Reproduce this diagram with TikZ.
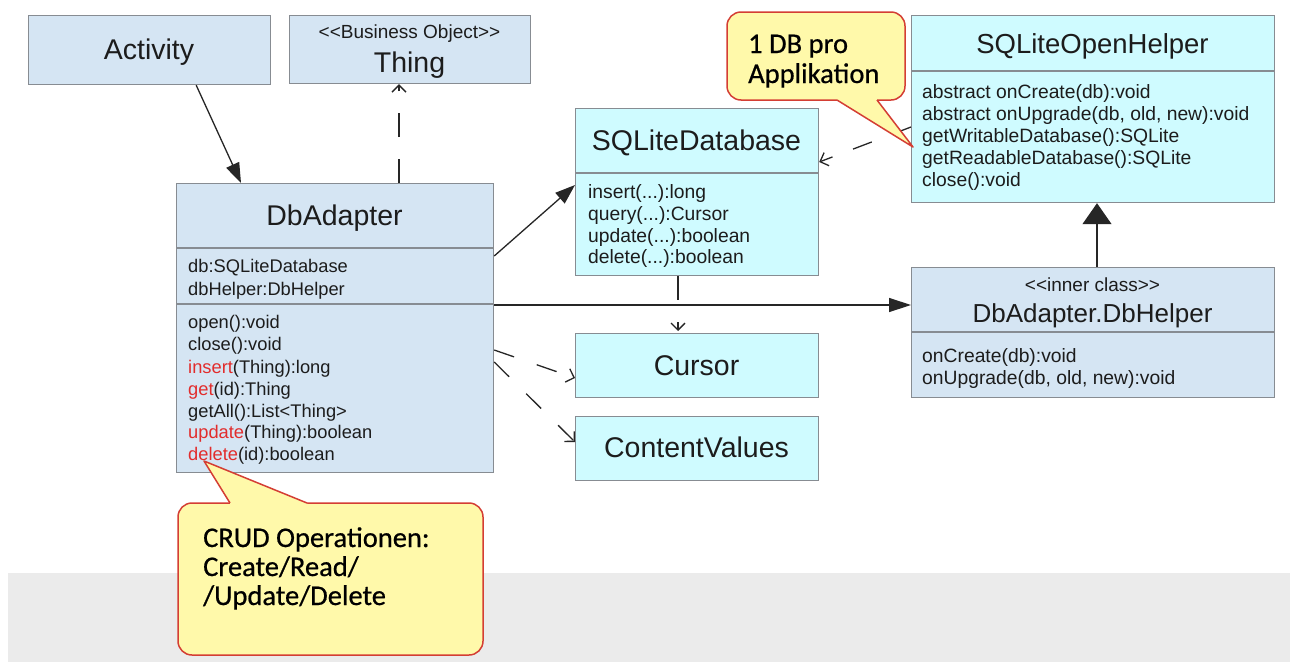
\documentclass[tikz,border=0pt]{standalone}
\usepackage{fontspec}
\setmainfont{Liberation Sans}
\newfontfamily\callfont{Carlito}[FakeBold=0.6]
\usetikzlibrary{arrows.meta}
\definecolor{clsblue}{RGB}{213,229,243}
\definecolor{clscyan}{RGB}{207,251,255}
\definecolor{bordergray}{RGB}{135,140,146}
\definecolor{callfill}{RGB}{255,249,170}
\definecolor{callborder}{RGB}{212,62,52}
\definecolor{optred}{RGB}{226,44,44}
\definecolor{bandgray}{RGB}{235,235,235}
\definecolor{txt}{RGB}{28,28,28}
\newcommand{\stL}{<\kern0pt<}
\newcommand{\stR}{>\kern0pt>}
\begin{document}
\begin{tikzpicture}[x=1pt,y=-1pt,
  box/.style={draw=bordergray, line width=1.2pt, inner sep=0pt, anchor=north west},
  bluebox/.style={box, fill=clsblue},
  cyanbox/.style={box, fill=clscyan},
  divider/.style={draw=bordergray, line width=1.1pt},
  title/.style={font=\fontsize{28.5}{30}\selectfont, text=txt, anchor=base, inner sep=0pt},
  stereo/.style={font=\fontsize{19}{21}\selectfont, text=txt, anchor=base, inner sep=0pt},
  mA/.style={font=\fontsize{18.3}{20}\selectfont, text=txt, anchor=base west, inner sep=0pt},
  mB/.style={font=\fontsize{19.3}{21}\selectfont, text=txt, anchor=base west, inner sep=0pt},
  conn/.style={draw=black!85, line width=1.3pt},
  dconn/.style={conn, dash pattern=on 24pt off 22pt},
  fillhead/.style={-{Triangle[length=20pt,width=14pt]}},
  openhead/.style={-{Straight Barb[length=7pt,width=14pt]}},
  callbox/.style={fill=callfill, draw=callborder, line width=1.5pt, rounded corners=14pt},
  ctext/.style={font=\callfont\fontsize{28.5}{30}\selectfont, text=black, anchor=base west, inner sep=0pt}
]
\useasboundingbox (0,0) rectangle (1298,662);
\fill[white] (0,0) rectangle (1298,662);
\fill[bandgray] (8,573) rectangle (1290,662);

% boxes
\node[bluebox, minimum width=242pt, minimum height=69pt] (act) at (28,15) {};
\node[bluebox, minimum width=241pt, minimum height=68pt] (thing) at (289,15) {};
\node[bluebox, minimum width=317pt, minimum height=289pt] (dba) at (176,183) {};
\node[cyanbox, minimum width=243pt, minimum height=167pt] (sdb) at (575,108) {};
\node[cyanbox, minimum width=243pt, minimum height=64pt] (cur) at (575,333) {};
\node[cyanbox, minimum width=243pt, minimum height=64pt] (cv) at (575,416) {};
\node[cyanbox, minimum width=363pt, minimum height=187pt] (soh) at (911,15) {};
\node[bluebox, minimum width=363pt, minimum height=130pt] (dbh) at (911,267) {};

% dividers
\draw[divider] (176,248) -- (493,248);
\draw[divider] (176,304) -- (493,304);
\draw[divider] (575,173) -- (818,173);
\draw[divider] (911,71) -- (1274,71);
\draw[divider] (911,332) -- (1274,332);

% texts
\node[title] (actT) at (149,59) {Activity};
\node[stereo] (thingS) at (409.5,38) {\stL Business Object\stR};
\node[title] (thingT) at (409.5,72) {Thing};

\node[title] (dbaT) at (334.5,225) {DbAdapter};
\node[mA] (a1) at (188,272) {db:SQLiteDatabase};
\node[mA] (a2) at (188,295) {dbHelper:DbHelper};
\node[mA] (o1) at (188,328) {open():void};
\node[mA] (o2) at (188,350) {close():void};
\node[mA] (o3) at (188,373) {\textcolor{optred}{insert}(Thing):long};
\node[mA] (o4) at (188,395) {\textcolor{optred}{get}(id):Thing};
\node[mA] (o5) at (188,417) {getAll():List<Thing>};
\node[mA] (o6) at (188,438) {\textcolor{optred}{update}(Thing):boolean};
\node[mA] (o7) at (188,460) {\textcolor{optred}{delete}(id):boolean};

\node[title] (sdbT) at (696.5,150) {SQLiteDatabase};
\node[mB] (s1) at (588,198) {insert(...):long};
\node[mB] (s2) at (588,220) {query(...):Cursor};
\node[mB] (s3) at (588,242) {update(...):boolean};
\node[mB] (s4) at (588,263) {delete(...):boolean};

\node[title] (curT) at (696.5,375) {Cursor};
\node[title] (cvT) at (696.5,457) {ContentValues};

\node[title, font=\fontsize{27.5}{29}\selectfont] (sohT) at (1092.5,53) {SQLiteOpenHelper};
\node[mB] (h1) at (922,98) {abstract onCreate(db):void};
\node[mB] (h2) at (922,120.2) {abstract onUpgrade(db, old, new):void};
\node[mB] (h3) at (922,142.4) {getWritableDatabase():SQLite};
\node[mB] (h4) at (922,164.6) {getReadableDatabase():SQLite};
\node[mB] (h5) at (922,186.8) {close():void};

\node[stereo] (dbhS) at (1092.5,291) {\stL inner class\stR};
\node[title, font=\fontsize{26}{28}\selectfont] (dbhT) at (1092.5,322) {DbAdapter.DbHelper};
\node[mB] (d1) at (922,362) {onCreate(db):void};
\node[mB] (d2) at (922,384) {onUpgrade(db, old, new):void};

% connectors
\draw[conn, fillhead] ([xshift=-75pt]act.south east) -- ([xshift=65pt]dba.north west);
\draw[dconn, openhead] ([xshift=223pt]dba.north west) -- ([xshift=110pt]thing.south west);
\draw[conn, fillhead] ([yshift=-73pt]dba.north east) -- ([yshift=-77pt]sdb.north west);
\draw[conn, -{Triangle[length=22pt,width=14pt]}] ([yshift=-122pt]dba.north east) -- ([yshift=-38pt]dbh.north west);
\draw[conn, dash pattern=on 21pt off 24pt, openhead] ([yshift=-167pt]dba.north east) -- ([yshift=-45pt]cur.north west);
\draw[conn, dash pattern=on 21pt off 24pt, openhead] ([yshift=-179pt]dba.north east) -- ([yshift=-26pt]cv.north west);
\draw[dconn, openhead] ([xshift=103pt]sdb.south west) -- ([xshift=103pt,yshift=2pt]cur.north west);
\draw[conn, dash pattern=on 20pt off 22pt, openhead] ([yshift=-112pt]soh.north west) -- ([yshift=-54pt]sdb.north east);
\draw[conn, -{Triangle[length=21pt,width=29pt]}] ([xshift=186pt]dbh.north west) -- ([xshift=186pt]soh.south west);

% callout 1
\draw[callbox] (727,12) rectangle (905,100);
\fill[callfill] (837,97) -- (877,97) -- (877,100) -- (913,147) -- (837,100) -- cycle;
\draw[callborder, line width=1.5pt, line join=round] (837,100) -- (913,147) -- (877,100);
\node[ctext] (c1a) at (748,53) {1 DB pro};
\node[ctext] (c1b) at (748,83) {Applikation};

% callout 2
\draw[callbox] (178,503) rectangle (483,655);
\fill[callfill] (230,506) -- (307,506) -- (307,503) -- (204,461) -- (230,503) -- cycle;
\draw[callborder, line width=1.5pt, line join=round] (230,503) -- (204,461) -- (307,503);
\node[ctext] (c2a) at (203,547) {CRUD Operationen:};
\node[ctext] (c2b) at (203,576) {Create/Read/};
\node[ctext] (c2c) at (203,605) {/Update/Delete};
\end{tikzpicture}
\end{document}
